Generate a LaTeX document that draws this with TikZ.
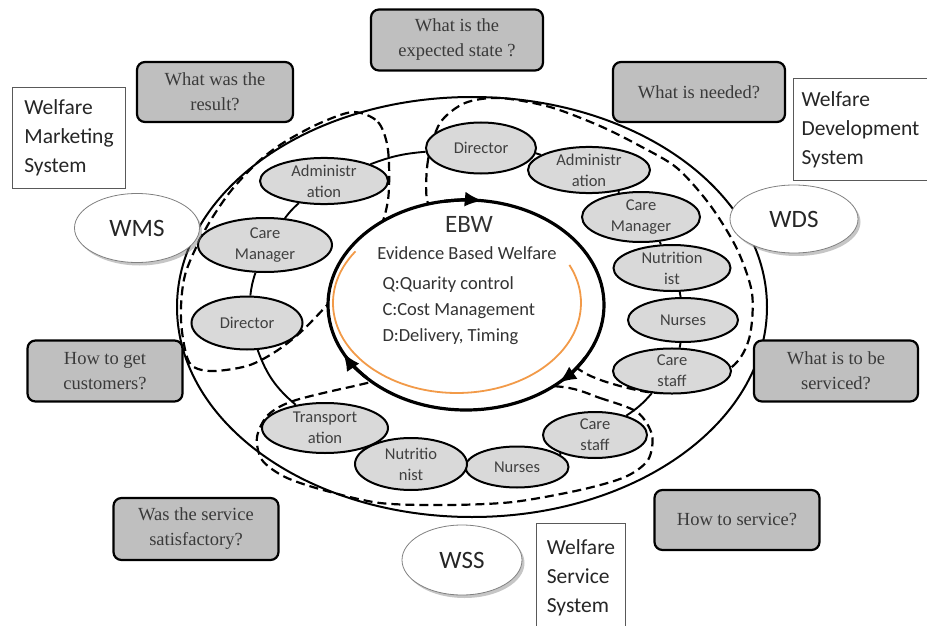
\documentclass[tikz,border=0pt]{standalone}
\usepackage{fontspec}
\usepackage{tikz}
\usetikzlibrary{shapes.geometric, arrows.meta, positioning, shadows, backgrounds}
\setmainfont{Carlito}
\newfontfamily\serifq{Liberation Serif}
\definecolor{qgray}{HTML}{BFBFBF}
\definecolor{qtext}{HTML}{3A3A3A}
\definecolor{staffgray}{HTML}{D9D9D9}
\definecolor{stafftext}{HTML}{404040}
\definecolor{ebworange}{HTML}{F29A48}

\begin{document}
\begin{tikzpicture}[x=1pt,y=1pt]

\tikzstyle{qbox}=[rectangle,draw,line width=2.2pt,rounded corners=8pt,fill=qgray,text=qtext,align=center,font=\serifq\fontsize{18.5}{25}\selectfont]
\tikzstyle{sysbox}=[rectangle,draw=black!65,line width=1pt,fill=white,align=left,anchor=north west,text=black!85,font=\fontsize{21.5}{29}\selectfont]
\tikzstyle{sysoval}=[ellipse,draw=black!50,line width=0.8pt,fill=white,drop shadow={opacity=0.45,shadow xshift=2.5pt,shadow yshift=-3pt},inner sep=0pt,text=black!85,font=\fontsize{25}{30}\selectfont]
\tikzstyle{staff}=[ellipse,draw,line width=2pt,fill=staffgray,text=stafftext,align=center,inner sep=0pt,font=\fontsize{16.5}{21}\selectfont]
\tikzstyle{ring}=[draw,line width=1.9pt]
\tikzstyle{zone}=[draw,line width=2.2pt,dash pattern=on 9pt off 5pt]
\tikzstyle{turn}=[draw,line width=3.2pt,-{Latex[length=18pt,width=15pt]}]

\useasboundingbox (0,0) rectangle (927,-626);

% outer boundary
\draw[line width=2pt] (472,-307) ellipse [x radius=295, y radius=210];

% WMS / WDS / WSS zones
\draw[zone] plot[smooth cycle] coordinates {(353,-112) (378,-122) (388,-150) (388,-200) (375,-240) (340,-290) (303,-330) (275,-352) (247,-366) (210,-371) (189,-362) (181,-320) (185,-275) (205,-230) (230,-192) (258,-162) (283,-143) (318,-124)};
\draw[zone] plot[smooth cycle] coordinates {(427,-200) (428,-160) (440,-123) (465,-103) (500,-98) (550,-107) (600,-126) (640,-146) (677,-168) (710,-205) (737,-249) (752,-293) (750,-335) (737,-362) (705,-385) (660,-393) (620,-386) (583,-372) (545,-340) (480,-250) (440,-215)};
\draw[zone] plot[smooth cycle] coordinates {(563,-387) (600,-398) (637,-412) (652,-435) (648,-460) (625,-477) (580,-490) (513,-502) (447,-505) (380,-503) (323,-490) (285,-477) (262,-460) (257,-437) (268,-415) (293,-401) (350,-387) (400,-378) (480,-383)};

% EBW core
\node (ebw) [ellipse,draw,line width=3.2pt,fill=white,minimum width=276pt,minimum height=210pt,inner sep=0pt] at (466,-305) {};
\draw[ebworange,line width=1.8pt] (457,-303) ++(145:124 and 90) arc[start angle=145,end angle=385,x radius=124,y radius=90];
\draw[turn] (ebw.center) ++(99:138 and 105) arc[start angle=99,end angle=83,x radius=138,y radius=105];
\draw[turn] (ebw.center) ++(224:138 and 105) arc[start angle=224,end angle=207,x radius=138,y radius=105];
\draw[turn] (ebw.center) ++(-30:138 and 105) arc[start angle=-30,end angle=-48,x radius=138,y radius=105];

\node (ebwtitle) [text=black!80,font=\fontsize{25}{30}\selectfont] at (469,-224) {EBW};
\node (ebwname) [text=black!80,font=\fontsize{18.5}{24}\selectfont] at (467,-253) {Evidence Based Welfare};
\node (qcd) [anchor=west,align=left,text=black!80,font=\fontsize{18.5}{26}\selectfont] at (379,-311) {Q:Quarity control\\C:Cost Management\\D:Delivery, Timing};

% staff ring
\node (dirtop) [staff,minimum width=110pt,minimum height=51pt] at (481,-148) {Director};
\node (admright) [staff,minimum width=122pt,minimum height=46pt] at (589,-170) {Administr\\ation};
\node (cmright) [staff,minimum width=118pt,minimum height=50pt] at (641,-217) {Care\\Manager};
\node (nutright) [staff,minimum width=117pt,minimum height=45pt] at (672,-268) {Nutrition\\ist};
\node (nurright) [staff,minimum width=110pt,minimum height=44pt] at (683,-320) {Nurses};
\node (csright) [staff,minimum width=118pt,minimum height=42pt] at (672,-371) {Care\\staff};
\node (csbot) [staff,minimum width=104pt,minimum height=46pt] at (595,-435) {Care\\staff};
\node (nurbot) [staff,minimum width=103pt,minimum height=41pt] at (517,-467) {Nurses};
\node (nutbot) [staff,minimum width=112pt,minimum height=52pt] at (411,-464) {Nutritio\\nist};
\node (trans) [staff,minimum width=126pt,minimum height=50pt] at (325,-428) {Transport\\ation};
\node (dirleft) [staff,minimum width=111pt,minimum height=53pt] at (247,-323) {Director};
\node (cmleft) [staff,minimum width=134pt,minimum height=54pt] at (265,-245) {Care\\Manager};
\node (admleft) [staff,minimum width=128pt,minimum height=44pt] at (324,-181) {Administr\\ation};

\begin{scope}[on background layer]
\draw[ring] (dirtop) to[bend left=6] (admright);
\draw[ring] (admright) to[bend left=6] (cmright);
\draw[ring] (cmright) to[bend left=6] (nutright);
\draw[ring] (nutright) to[bend left=6] (nurright);
\draw[ring] (nurright) to[bend left=6] (csright);
\draw[ring] (csright) to[bend left=8] (csbot);
\draw[ring] (csbot) to[bend left=6] (nurbot);
\draw[ring] (nurbot) to[bend left=6] (nutbot);
\draw[ring] (nutbot) to[bend left=6] (trans);
\draw[ring] (trans) to[bend left=15] (dirleft);
\draw[ring] (dirleft) to[bend left=6] (cmleft);
\draw[ring] (cmleft) to[bend left=6] (admleft);
\draw[ring] (admleft) to[bend left=8] (dirtop);
\end{scope}

% questions
\node (expected) [qbox,minimum width=172pt,minimum height=61pt] at (457,-40) {What is the\\expected state ?};
\node (result) [qbox,minimum width=156pt,minimum height=60pt] at (215,-92) {What was the\\result?};
\node (needed) [qbox,minimum width=172pt,minimum height=60pt] at (699,-92) {What is needed?};
\node (customers) [qbox,minimum width=155pt,minimum height=61pt] at (105,-371) {How to get\\customers?};
\node (serviced) [qbox,minimum width=164pt,minimum height=61pt] at (836,-371) {What is to be\\serviced?};
\node (satisfied) [qbox,minimum width=165pt,minimum height=62pt] at (196,-529) {Was the service\\satisfactory?};
\node (howserve) [qbox,minimum width=165pt,minimum height=60pt] at (737,-520) {How to service?};

% systems
\node (wmsbox) [sysbox,minimum width=113pt,minimum height=101pt] at (12,-87) {Welfare\\Marketing\\System};
\node (wdsbox) [sysbox,minimum width=134pt,minimum height=102pt] at (793,-78) {Welfare\\Development\\System};
\node (wssbox) [sysbox,minimum width=89pt,minimum height=108pt] at (536,-523) {Welfare\\Service\\System};

\node (wms) [sysoval,minimum width=125pt,minimum height=69pt] at (137,-228) {WMS};
\node (wds) [sysoval,minimum width=128pt,minimum height=68pt] at (794,-219) {WDS};
\node (wss) [sysoval,minimum width=120pt,minimum height=70pt] at (462,-560) {WSS};

\end{tikzpicture}
\end{document}
